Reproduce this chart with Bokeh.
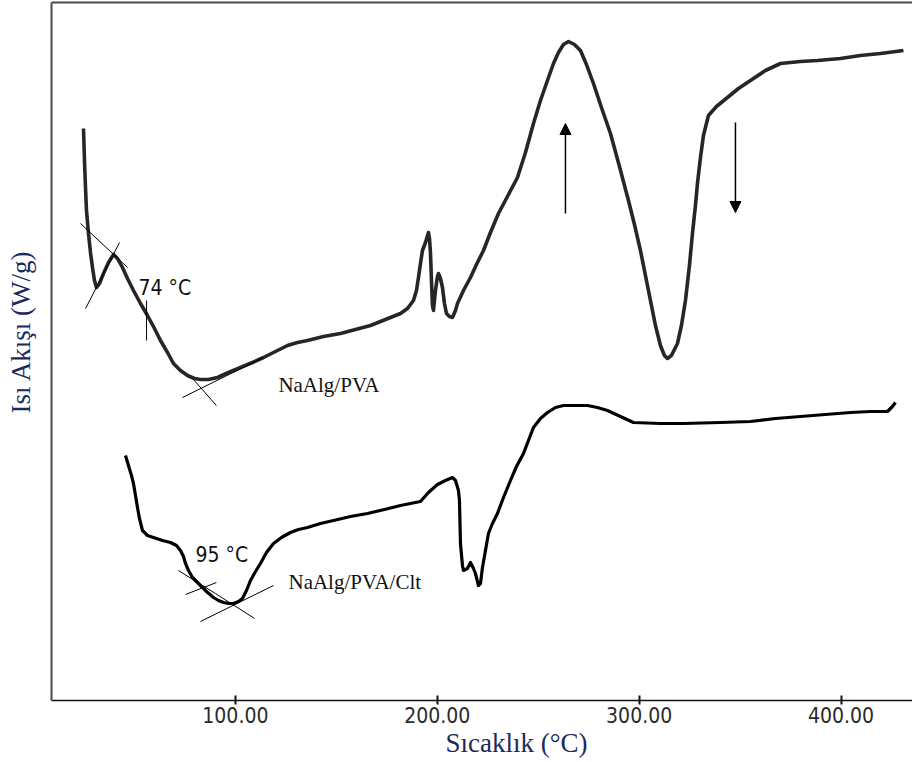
from bokeh.plotting import figure
from bokeh.models import (Range1d, LinearAxis, FixedTicker, NumeralTickFormatter,
                          Label, Arrow, NormalHead, ColumnDataSource, Title)
from bokeh.embed import file_html
from bokeh.resources import INLINE

# DSC thermogram of the NaAlg/PVA film: (temperature °C, heat flow, arbitrary units)
pva_curve = [
    (24.77, 5.72), (25.26, 5.40), (25.76, 5.13), (26.25, 4.90), (27.24, 4.67),
    (28.23, 4.48), (29.22, 4.33), (30.21, 4.20), (31.20, 4.13), (32.69, 4.17),
    (34.67, 4.27), (37.15, 4.38), (39.62, 4.46), (41.61, 4.42), (44.08, 4.33),
    (46.56, 4.22), (49.53, 4.10), (53.00, 3.97), (56.46, 3.85), (59.93, 3.72),
    (62.90, 3.60), (66.37, 3.48), (69.34, 3.37), (72.81, 3.30), (76.28, 3.25),
    (79.74, 3.22), (82.72, 3.21), (86.68, 3.21), (91.14, 3.23), (96.58, 3.28),
    (102.53, 3.33), (108.47, 3.38), (113.92, 3.43), (119.86, 3.49), (125.81, 3.55),
    (130.76, 3.58), (135.71, 3.60), (143.64, 3.64), (152.06, 3.67), (159.49, 3.71),
    (166.92, 3.75), (171.87, 3.79), (176.82, 3.83), (181.78, 3.87), (185.24, 3.92),
    (188.21, 4.00), (189.70, 4.10), (190.69, 4.23), (191.68, 4.37), (192.67, 4.50),
    (194.16, 4.58), (195.64, 4.68), (196.14, 4.62), (196.63, 4.48), (197.13, 4.20),
    (197.62, 3.95), (198.12, 3.90), (199.11, 4.10), (200.10, 4.24), (200.60, 4.27),
    (201.59, 4.22), (202.58, 4.13), (203.57, 3.97), (204.56, 3.87), (206.04, 3.84),
    (207.53, 3.83), (209.02, 3.90), (210.01, 3.97), (212.98, 4.10), (216.45, 4.23),
    (219.42, 4.36), (222.89, 4.50), (226.35, 4.68), (230.31, 4.87), (234.77, 5.04),
    (239.73, 5.23), (243.69, 5.48), (247.65, 5.77), (251.12, 6.00), (254.58, 6.20),
    (257.56, 6.37), (260.03, 6.48), (262.51, 6.56), (264.99, 6.59), (267.96, 6.56),
    (270.93, 6.50), (273.90, 6.36), (277.37, 6.17), (281.33, 5.93), (285.79, 5.67),
    (290.25, 5.34), (294.70, 5.00), (297.68, 4.76), (300.65, 4.50), (303.12, 4.25),
    (305.60, 4.00), (308.08, 3.75), (310.55, 3.55), (312.53, 3.45), (314.02, 3.42),
    (316.00, 3.45), (318.97, 3.57), (320.95, 3.75), (322.94, 4.00), (324.92, 4.35),
    (326.40, 4.67), (327.89, 4.95), (328.88, 5.17), (330.37, 5.43), (331.85, 5.65),
    (334.33, 5.85), (338.29, 5.94), (343.74, 6.03), (349.19, 6.12), (355.13, 6.20),
    (362.56, 6.30), (369.99, 6.37), (379.90, 6.39), (388.32, 6.40), (399.71, 6.42),
    (409.61, 6.45), (419.52, 6.47), (430.91, 6.50),
]

# DSC thermogram of the NaAlg/PVA/Clt composite film
clt_curve = [
    (45.57, 2.45), (47.05, 2.35), (48.54, 2.25), (49.53, 2.17), (50.52, 2.05),
    (51.51, 1.93), (52.50, 1.82), (53.99, 1.70), (56.46, 1.65), (59.44, 1.63),
    (63.89, 1.60), (67.86, 1.58), (70.83, 1.55), (72.81, 1.50), (74.30, 1.44),
    (75.29, 1.37), (76.77, 1.30), (78.76, 1.23), (80.73, 1.19), (82.72, 1.15),
    (85.69, 1.09), (89.15, 1.03), (91.63, 1.00), (94.11, 0.98), (96.58, 0.97),
    (99.06, 0.97), (101.54, 0.99), (103.52, 1.02), (105.50, 1.10), (107.48, 1.20),
    (109.96, 1.29), (112.43, 1.37), (115.40, 1.48), (118.87, 1.57), (122.83, 1.63),
    (127.29, 1.68), (131.25, 1.71), (135.71, 1.73), (142.15, 1.77), (148.59, 1.80),
    (157.01, 1.84), (165.43, 1.87), (173.85, 1.91), (181.78, 1.95), (186.73, 1.97),
    (191.68, 1.99), (195.64, 2.08), (200.10, 2.16), (204.06, 2.20), (207.53, 2.23),
    (209.02, 2.20), (210.50, 2.10), (211.00, 2.00), (211.49, 1.57), (212.48, 1.35),
    (212.98, 1.30), (214.96, 1.32), (216.45, 1.38), (217.93, 1.32), (218.92, 1.27),
    (220.41, 1.15), (221.40, 1.17), (222.39, 1.33), (223.88, 1.50), (225.36, 1.67),
    (227.34, 1.77), (229.82, 1.87), (232.79, 2.03), (236.26, 2.20), (239.23, 2.34),
    (242.70, 2.47), (245.17, 2.60), (247.65, 2.73), (251.12, 2.82), (254.58, 2.88),
    (258.55, 2.93), (262.51, 2.95), (268.45, 2.95), (274.40, 2.95), (279.35, 2.93),
    (284.30, 2.90), (290.74, 2.84), (297.18, 2.78), (310.55, 2.77), (321.95, 2.77),
    (340.27, 2.78), (355.13, 2.79), (367.51, 2.82), (379.90, 2.84), (392.28, 2.86),
    (404.66, 2.88), (414.57, 2.89), (422.99, 2.89), (425.47, 2.94), (426.95, 2.98),
]

# onset construction lines: (T0, q0, T1, q1)
pva_tangents = [(23.3, 4.77, 46.6, 4.33),
                (25.8, 3.92, 42.6, 4.58),
                (56.0, 4.00, 56.0, 3.60),
                (73.8, 3.03, 113.9, 3.43),
                (78.8, 3.22, 90.6, 2.95)]
clt_tangents = [(71.8, 1.30, 90.1, 1.07),
                (75.3, 1.06, 90.6, 1.18),
                (82.7, 0.79, 118.9, 1.15),
                (90.1, 1.07, 109.5, 0.82)]

x_ticks = [100, 200, 300, 400]

serif = "Liberation Serif"
narrow = "DejaVu Sans Condensed, Liberation Sans"
navy = "#1b2a5c"

p = figure(width=912, height=762, output_backend="svg", toolbar_location=None,
           x_range=Range1d(8.92, 435.4), y_range=Range1d(0, 6.98),
           min_border_left=51, min_border_right=0, min_border_top=2,
           min_border_bottom=62, background_fill_color="white",
           border_fill_color="white", outline_line_color=None)
p.xgrid.grid_line_color = None
p.ygrid.grid_line_color = None

xa = p.xaxis[0]
xa.ticker = FixedTicker(ticks=x_ticks)
xa.formatter = NumeralTickFormatter(format="0.00")
xa.axis_line_color = "#111111"
xa.axis_line_width = 1.6
xa.major_tick_line_color = "#111111"
xa.major_tick_line_width = 2
xa.major_tick_in = 5
xa.major_tick_out = 4
xa.minor_tick_line_color = None
xa.major_label_standoff = 2
xa.major_label_text_font = narrow
xa.major_label_text_font_size = "21px"
xa.major_label_text_color = "#2a2a2a"

# plain left spine: one hidden tick reserves a gap between the frame and the title
ya = p.yaxis[0]
ya.ticker = FixedTicker(ticks=[3.5])
ya.major_label_overrides = {3.5: ""}
ya.axis_line_color = "#4a4a4a"
ya.axis_line_width = 2
ya.major_tick_line_color = None
ya.minor_tick_line_color = None
ya.major_tick_in = 0
ya.major_tick_out = 16
ya.major_label_standoff = 0

top = LinearAxis(ticker=FixedTicker(ticks=[]), axis_line_color="#4a4a4a",
                 axis_line_width=2, major_tick_line_color=None,
                 minor_tick_line_color=None, major_label_text_font_size="0px",
                 major_tick_out=0, major_label_standoff=0)
p.add_layout(top, "above")

p.line([t for t, q in pva_curve], [q for t, q in pva_curve],
       line_color="#262626", line_width=3.6, line_join="round")
p.line([t for t, q in clt_curve], [q for t, q in clt_curve],
       line_color="#000000", line_width=3.2, line_join="round")

for segs in (pva_tangents, clt_tangents):
    src = ColumnDataSource(dict(x0=[s[0] for s in segs], y0=[s[1] for s in segs],
                                x1=[s[2] for s in segs], y1=[s[3] for s in segs]))
    p.segment("x0", "y0", "x1", "y1", source=src, line_color="#000000", line_width=1)

# heating direction arrows
p.add_layout(Arrow(x_start=263.5, y_start=4.87, x_end=263.5, y_end=5.77,
                   line_width=1.5, line_color="#000000",
                   end=NormalHead(size=11, fill_color="#000000", line_color="#000000")))
p.add_layout(Arrow(x_start=347.7, y_start=5.78, x_end=347.7, y_end=4.88,
                   line_width=1.5, line_color="#000000",
                   end=NormalHead(size=11, fill_color="#000000", line_color="#000000")))

notes = [(52.0, 4.13, "74 \u00b0C", narrow, "21px"),
         (80.2, 1.46, "95 \u00b0C", narrow, "21px"),
         (121.3, 3.16, "NaAlg/PVA", serif, "21px"),
         (126.3, 1.19, "NaAlg/PVA/Clt", serif, "21px")]
for x, y, t, f, s in notes:
    p.add_layout(Label(x=x, y=y, text=t, text_font=f, text_font_size=s,
                       text_color="#111111", text_align="left",
                       text_baseline="middle"))

p.add_layout(Title(text="S\u0131cakl\u0131k (\u00b0C)", align="left", offset=394,
                   text_font=serif, text_font_size="27px", text_font_style="normal",
                   text_color=navy, standoff=0), "below")
p.add_layout(Title(text="Is\u0131 Ak\u0131\u015f\u0131 (W/g)", align="left", offset=287,
                   text_font=serif, text_font_size="27px", text_font_style="normal",
                   text_color=navy, standoff=0), "left")

open("out.html", "w").write(file_html(p, INLINE))
